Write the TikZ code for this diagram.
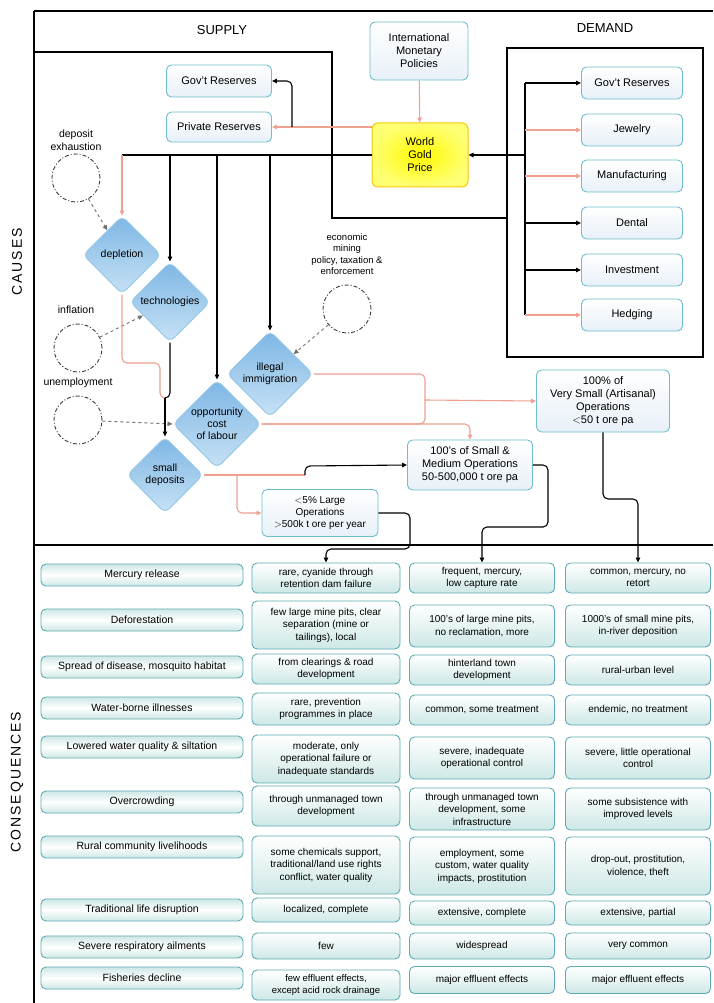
\documentclass[tikz,border=0pt]{standalone}
\usepackage{fontspec}
\setmainfont{Liberation Sans}
\setsansfont{Liberation Sans}
\newfontfamily\widesans[LetterSpace=14]{Liberation Sans}
\usetikzlibrary{shapes.geometric,arrows.meta,calc}
\definecolor{pinkl}{RGB}{238,160,145}
\definecolor{boxedge}{RGB}{110,190,205}
\definecolor{boxfill}{RGB}{232,240,248}
\definecolor{dtop}{RGB}{125,182,228}
\definecolor{dbot}{RGB}{200,226,245}
\definecolor{dedge}{RGB}{150,200,232}
\definecolor{cedge}{RGB}{95,170,180}
\definecolor{cfill}{RGB}{205,232,230}
\begin{document}
\begin{tikzpicture}[x=1pt,y=-1pt,
  >={Triangle[length=5pt,width=4.5pt]},
  frame/.style={line width=2.6pt,black},
  hdr/.style={font=\fontsize{13}{15}\selectfont},
  side/.style={font=\widesans\fontsize{14}{16}\selectfont,rotate=90},
  tbox/.style={draw=boxedge,line width=0.9pt,rounded corners=5pt,top color=white,bottom color=boxfill,align=center,font=\fontsize{11}{13}\selectfont,inner sep=1pt},
  gold/.style={draw=yellow!60!orange,line width=1pt,rounded corners=6pt,inner color=yellow!95!orange,outer color=yellow!55!white,align=center,font=\fontsize{11}{13}\selectfont,minimum width=96pt,minimum height=64pt},
  dia/.style={diamond,aspect=1,draw=dedge,line width=1pt,rounded corners=6pt,top color=dtop,bottom color=dbot,align=center,font=\fontsize{10.5}{12}\selectfont,inner sep=0pt},
  circ/.style={circle,draw=black!75,line width=0.9pt,dash pattern=on 4pt off 2pt on 1pt off 2pt,minimum size=48pt,inner sep=0pt},
  lbl/.style={align=center,font=\fontsize{10.5}{12.5}\selectfont,inner sep=1pt},
  conn/.style={line width=1.1pt,black,rounded corners=5pt},
  pconn/.style={line width=1.1pt,pinkl,rounded corners=5pt},
  darr/.style={line width=0.9pt,black!55,dashed,->},
  cone/.style={draw=cedge,line width=0.9pt,rounded corners=5pt,top color=cfill,bottom color=cfill,middle color=white,align=center,font=\fontsize{10.5}{12}\selectfont,minimum width=202pt,minimum height=22pt,inner sep=1pt},
  cbox/.style={draw=cedge,line width=0.9pt,rounded corners=5pt,top color=white,bottom color=cfill,align=center,font=\fontsize{10}{12.5}\selectfont,inner sep=1pt},
  cB/.style={cbox,minimum width=148pt},
  cC/.style={cbox,minimum width=145pt},
  cD/.style={cbox,minimum width=145pt}]
\useasboundingbox (0,0) rectangle (713,1003);
\fill[white] (0,0) rectangle (713,1003);

% frames
\draw[frame] (34,11) -- (713,11);
\draw[frame] (34,11) -- (34,1003);
\draw[frame] (34,545) -- (713,545);
\draw[frame] (34,52) -- (332,52) -- (332,218) -- (507,218);
\draw[frame] (507,48) rectangle (703,357);

\node[hdr] (sup) at (222,30) {SUPPLY};
\node[hdr] (dem) at (605,28) {DEMAND};
\node[side] (cau) at (17,262) {CAUSES};
\node[side] (con) at (17,782) {CONSEQUENCES};

% top nodes
\node[tbox,minimum width=98pt,minimum height=58pt] (imp) at (419,51) {International\\Monetary\\Policies};
\node[gold] (wgp) at (420,155) {World\\Gold\\Price};
\node[tbox,minimum width=105pt,minimum height=32pt] (gr) at (219,81) {Gov't Reserves};
\node[tbox,minimum width=105pt,minimum height=30pt] (pr) at (219,127) {Private Reserves};

% demand
\node[tbox,minimum width=101pt,minimum height=32pt] (d1) at (632,83) {Gov't Reserves};
\node[tbox,minimum width=101pt,minimum height=32pt] (d2) at (632,130) {Jewelry};
\node[tbox,minimum width=101pt,minimum height=32pt] (d3) at (632,176) {Manufacturing};
\node[tbox,minimum width=101pt,minimum height=32pt] (d4) at (632,223) {Dental};
\node[tbox,minimum width=101pt,minimum height=32pt] (d5) at (632,270) {Investment};
\node[tbox,minimum width=101pt,minimum height=32pt] (d6) at (632,315) {Hedging};

% diamonds
\node[dia,minimum size=78pt] (dep) at (122,255) {depletion};
\node[dia,minimum size=80pt] (tech) at (170,302) {technologies};
\node[dia,minimum size=86pt] (ill) at (270,374) {illegal\\immigration};
\node[dia,minimum size=88pt] (opp) at (217,424) {opportunity\\cost\\of labour};
\node[dia,minimum size=76pt] (sd) at (165,475) {small\\deposits};

% circles
\node[lbl] (l1) at (76,140) {deposit\\exhaustion};
\node[circ] (c1) at (76,178) {};
\node[lbl] (l2) at (76,310) {inflation};
\node[circ] (c2) at (78,348) {};
\node[lbl] (l3) at (78,383) {unemployment};
\node[circ] (c3) at (78,420) {};
\node[lbl,font=\fontsize{9.5}{11.5}\selectfont] (l4) at (347,254) {economic\\mining\\policy, taxation \&\\enforcement};
\node[circ] (c4) at (347,309) {};

% operations
\node[tbox,minimum width=133pt,minimum height=62pt] (vs) at (603,401) {100\% of\\Very Small (Artisanal)\\Operations\\$<$50 t ore pa};
\node[tbox,minimum width=125pt,minimum height=50pt] (sm) at (470,465) {100's of Small \&\\Medium Operations\\50-500,000 t ore pa};
\node[tbox,minimum width=116pt,minimum height=47pt,font=\fontsize{10}{12}\selectfont] (lg) at (320,513) {$<$5\% Large\\Operations\\$>$500k t ore per year};

% top connectors
\draw[pconn,->] (imp) -- (wgp);
\coordinate (rv) at (292,127);
\draw[pconn,->] (wgp.west |- pr.east) -- (pr.east);
\draw[conn,->] (rv) |- (gr.east);

% demand connectors
\coordinate (dt) at (525,155);
\draw[conn] (dt |- d1.west) -- (dt |- d6.west);
\draw[conn,->] (dt) -- (wgp.east);
\draw[conn,->] (dt |- d1.west) -- (d1.west);
\draw[pconn,->] (dt |- d2.west) -- (d2.west);
\draw[pconn,->] (dt |- d3.west) -- (d3.west);
\draw[conn,->] (dt |- d4.west) -- (d4.west);
\draw[conn,->] (dt |- d5.west) -- (d5.west);
\draw[pconn,->] (dt |- d6.west) -- (d6.west);

% supply bus
\coordinate (b0) at (dep.north |- wgp.west);
\draw[conn] (wgp.west) -- (b0);
\draw[pconn,->] (b0) -- (dep.north);
\draw[conn,->] (tech.north |- wgp.west) -- (tech.north);
\draw[conn,->] (opp.north |- wgp.west) -- (opp.north);
\draw[conn,->] (ill.north |- wgp.west) -- (ill.north);

% circles to diamonds
\draw[darr] (c1) -- (dep);
\draw[darr] (c2) -- (tech);
\draw[darr] (c3) -- (opp.west);
\draw[darr] (c4) -- (ill);

% depletion / technologies to small deposits
\coordinate (q) at (sd.north |- 0,398);
\coordinate (q1) at (160,363);
\draw[pconn] (dep.south) |- (q1) -- (q1 |- q) -- (q);
\draw[conn] (tech.south) |- (q);
\draw[conn,->] (q) -- (sd.north);

% diamonds to operations
\coordinate (j) at (425,400);
\draw[pconn] (ill.east) -| (j);
\draw[pconn] (opp.east) -| (j);
\draw[pconn,->] (j) -- (vs.west);
\draw[pconn,->] (opp.east) -| (sm.north);
\coordinate (k) at (237,475);
\draw[pconn] (sd.east) -- (k);
\draw[pconn,->] (k) |- (lg.west);
\draw[pconn] (k) -- (305,475);
\draw[conn,->] (305,475) -- (305,466) -- (sm.west);

% consequences table
\node[cone] (r1a) at (142,575) {Mercury release};
\node[cB,minimum height=30pt] (r1b) at (326,578) {rare, cyanide through\\retention dam failure};
\node[cC,minimum height=30pt] (r1c) at (482,578) {frequent, mercury,\\low capture rate};
\node[cD,minimum height=30pt] (r1d) at (638,578) {common, mercury, no\\retort};

\node[cone] (r2a) at (142,620) {Deforestation};
\node[cB,minimum height=48pt] (r2b) at (326,625) {few large mine pits, clear\\separation (mine or\\tailings), local};
\node[cC,minimum height=42pt] (r2c) at (482,626) {100's of large mine pits,\\no reclamation, more};
\node[cD,minimum height=42pt] (r2d) at (638,626) {1000's of small mine pits,\\in-river deposition};

\node[cone] (r3a) at (142,667) {Spread of disease, mosquito habitat};
\node[cB,minimum height=30pt] (r3b) at (326,669) {from clearings \& road\\development};
\node[cC,minimum height=30pt] (r3c) at (482,670) {hinterland town\\development};
\node[cD,minimum height=30pt] (r3d) at (638,670) {rural-urban level};

\node[cone] (r4a) at (142,708) {Water-borne illnesses};
\node[cB,minimum height=32pt] (r4b) at (326,709) {rare, prevention\\programmes in place};
\node[cC,minimum height=30pt] (r4c) at (482,710) {common, some treatment};
\node[cD,minimum height=30pt] (r4d) at (638,710) {endemic, no treatment};

\node[cone] (r5a) at (142,747) {Lowered water quality \& siltation};
\node[cB,minimum height=48pt] (r5b) at (326,759) {moderate, only\\operational failure or\\inadequate standards};
\node[cC,minimum height=42pt] (r5c) at (482,758) {severe, inadequate\\operational control};
\node[cD,minimum height=42pt] (r5d) at (638,758) {severe, little operational\\control};

\node[cone] (r6a) at (142,802) {Overcrowding};
\node[cB,minimum height=40pt] (r6b) at (326,806) {through unmanaged town\\development};
\node[cC,minimum height=42pt] (r6c) at (482,809) {through unmanaged town\\development, some\\infrastructure};
\node[cD,minimum height=42pt] (r6d) at (638,809) {some subsistence with\\improved levels};

\node[cone] (r7a) at (142,847) {Rural community livelihoods};
\node[cB,minimum height=58pt] (r7b) at (326,865) {some chemicals support,\\traditional/land use rights\\conflict, water quality};
\node[cC,minimum height=58pt] (r7c) at (482,866) {employment, some\\custom, water quality\\impacts, prostitution};
\node[cD,minimum height=58pt] (r7d) at (638,866) {drop-out, prostitution,\\violence, theft};

\node[cone] (r8a) at (142,910) {Traditional life disruption};
\node[cB,minimum height=24pt] (r8b) at (326,910) {localized, complete};
\node[cC,minimum height=24pt] (r8c) at (482,913) {extensive, complete};
\node[cD,minimum height=24pt] (r8d) at (638,913) {extensive, partial};

\node[cone] (r9a) at (142,947) {Severe respiratory ailments};
\node[cB,minimum height=26pt] (r9b) at (326,946) {few};
\node[cC,minimum height=26pt] (r9c) at (482,946) {widespread};
\node[cD,minimum height=26pt] (r9d) at (638,946) {very common};

\node[cone] (r10a) at (142,978) {Fisheries decline};
\node[cB,minimum height=30pt,font=\fontsize{9.5}{12}\selectfont] (r10b) at (326,985) {few effluent effects,\\except acid rock drainage};
\node[cC,minimum height=27pt] (r10c) at (482,980) {major effluent effects};
\node[cD,minimum height=27pt] (r10d) at (638,980) {major effluent effects};

% operations to consequences
\draw[conn,->] (lg.east) -- (410,513) -- (410,549) -- (r1b.north |- 0,549) -- (r1b.north);
\draw[conn,->] (sm.east) -- (548,465) -- (548,527) -- (r1c.north |- 0,527) -- (r1c.north);
\draw[conn,->] (vs.south) -- (vs.south |- 0,499) -- (r1d.north |- 0,499) -- (r1d.north);
\end{tikzpicture}
\end{document}
